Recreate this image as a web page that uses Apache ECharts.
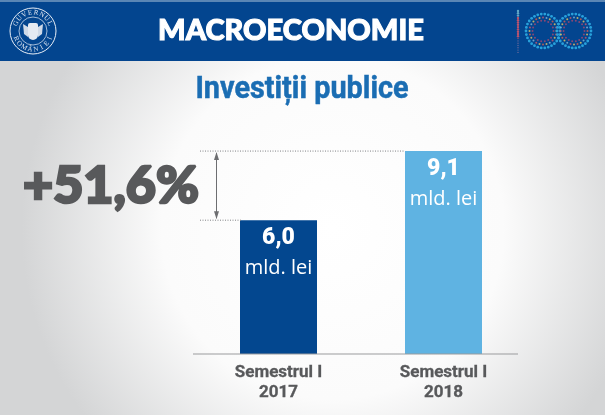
<!DOCTYPE html>
<html><head><meta charset="utf-8">
<style>html,body{margin:0;padding:0;background:#fff}#c{width:605px;height:415px}</style>
<script src="https://cdn.jsdelivr.net/npm/echarts@6/dist/echarts.min.js"></script>
</head><body><div id="c"></div>
<script>
const categories = ['Semestrul I\n2017', 'Semestrul I\n2018'];
const values = [6.0, 9.1];
const valueLabels = ['6,0', '9,1'];
const unitLabel = 'mld. lei';
const headerTitle = 'MACROECONOMIE';
const chartTitle = 'Investiții publice';
const changeLabel = '+51,6%';
const barColors = ['#03478f', '#5fb3e2'];
const ringTop = 'GUVERNUL';
const ringBottom = 'ROMÂNIEI';

const chart = echarts.init(document.getElementById('c'), null, {renderer:'canvas'});
chart.setOption({
  animation:false,
  backgroundColor:{type:'radial',x:0.55,y:0.55,r:0.75,colorStops:[{offset:0,color:'#ffffff'},{offset:0.55,color:'#fbfbfb'},{offset:1,color:'#d4d5d6'}]},
  grid:{left:196,width:330,top:131,height:223},
  xAxis:{type:'category',data:categories,
    axisLine:{show:false},axisTick:{show:false},
    axisLabel:{margin:9,color:'#58595b',fontFamily:'Roboto',fontWeight:700,fontSize:17,lineHeight:20,textBorderColor:'#58595b',textBorderWidth:0.3}},
  yAxis:{type:'value',min:0,max:10,show:false,splitLine:{show:false}},
  series:[{type:'bar',barWidth:77,
    data:values.map((v,i)=>({value:v,itemStyle:{color:barColors[i]},
      label:{formatter:'{a|'+valueLabels[i]+'}\n{b|'+unitLabel+'}'}})),
    label:{show:true,position:'insideTop',distance:5,
      rich:{a:{color:'#fff',fontFamily:'Roboto',fontWeight:900,fontSize:23,lineHeight:27,align:'center'},
            b:{color:'#fff',fontFamily:'Open Sans',fontSize:20,lineHeight:33,align:'center'}}}}]
});

const yBase = chart.convertToPixel({yAxisIndex:0},0);
const yA = chart.convertToPixel({yAxisIndex:0},values[0]);
const yB = chart.convertToPixel({yAxisIndex:0},values[1]);
const g = [];
g.push({type:'rect',z:1,shape:{x:0,y:2,width:605,height:59},style:{fill:'#03458f'}});
g.push({type:'rect',z:1,shape:{x:0,y:0,width:605,height:2},style:{fill:'#5a86b5'}});
g.push({type:'text',z:3,x:291,y:31,style:{text:headerTitle,fill:'#fff',stroke:'#fff',lineWidth:1.1,font:'900 29px Lato',align:'center',verticalAlign:'middle',shadowColor:'rgba(0,0,0,0.8)',shadowBlur:3,shadowOffsetX:2,shadowOffsetY:2}});
// emblem
const ecx=33, ecy=31;
g.push({type:'circle',z:3,shape:{cx:ecx,cy:ecy,r:23},style:{fill:'none',stroke:'#e8eef6',lineWidth:1}});
g.push({type:'circle',z:3,shape:{cx:ecx,cy:ecy,r:14},style:{fill:'none',stroke:'#e8eef6',lineWidth:0.7}});
g.push({type:'rect',z:3,shape:{x:ecx-5,y:ecy-8,width:10,height:17,r:[2,2,5,5]},style:{fill:'#e3e9f2'}});
g.push({type:'polygon',z:3,shape:{points:[[ecx-5,ecy-4],[ecx-10,ecy-7],[ecx-9,ecy+3],[ecx-5,ecy+6]]},style:{fill:'#cfd9e7'}});
g.push({type:'polygon',z:3,shape:{points:[[ecx+5,ecy-4],[ecx+10,ecy-7],[ecx+9,ecy+3],[ecx+5,ecy+6]]},style:{fill:'#cfd9e7'}});
[...ringTop].forEach((ch,i)=>{const a=(-66+i*132/7)*Math.PI/180;
  g.push({type:'text',z:3,x:ecx+18.5*Math.sin(a),y:ecy-18.5*Math.cos(a),rotation:-a,style:{text:ch,fill:'#dfe6f0',font:'7px "Liberation Serif"',align:'center',verticalAlign:'middle'}});});
[...ringBottom].forEach((ch,i)=>{const a=(-66+i*132/7)*Math.PI/180;
  g.push({type:'text',z:3,x:ecx+18.5*Math.sin(a),y:ecy+18.5*Math.cos(a),rotation:a,style:{text:ch,fill:'#dfe6f0',font:'7px "Liberation Serif"',align:'center',verticalAlign:'middle'}});});
// 100 logo
const dotCols=['#e8c860','#d8604f','#e8c860','#c9566c','#7fb8d8'];
for(let j=0;j<19;j++){g.push({type:'circle',z:3,shape:{cx:518,cy:11+j*2.3,r:j<12?1.2:0.7},style:{fill:j<3?'#5fa8c8':j<13?'#b9536f':'#6f6a9a'}});}
[[543,31],[574,31]].forEach((c,ci)=>{
  [[17,30],[13.5,24],[10.5,18]].forEach((r,ri)=>{
    for(let i=0;i<r[1];i++){const a=i/r[1]*Math.PI*2;
      const col = ri===0 ? '#2aa7df' : ri===2 ? '#a8486f' : dotCols[(i+ci)%5];
      g.push({type:'circle',z:3,shape:{cx:c[0]+r[0]*Math.cos(a),cy:c[1]+r[0]*Math.sin(a),r:ri===0?1.4:1},style:{fill:col,opacity:ri===0?0.95:0.8}});}
  });
});
// title
g.push({type:'text',z:3,x:302,y:90,scaleX:0.9,style:{text:chartTitle,fill:'#1a6db3',stroke:'#1a6db3',lineWidth:0.5,font:'700 32px Roboto',align:'center',verticalAlign:'middle'}});
// axis line
g.push({type:'line',z:3,shape:{x1:193,y1:yBase,x2:518,y2:yBase},style:{stroke:'#9a9b9d',lineWidth:1}});
// guides
const dot={stroke:'#808285',lineWidth:1,lineDash:[1,1.5]};
g.push({type:'line',z:3,shape:{x1:200,y1:yB,x2:405,y2:yB},style:dot});
g.push({type:'line',z:3,shape:{x1:200,y1:yA,x2:241,y2:yA},style:dot});
g.push({type:'line',z:3,shape:{x1:216.5,y1:yB+2,x2:216.5,y2:yA-2},style:{stroke:'#6d6e71',lineWidth:1}});
g.push({type:'polygon',z:3,shape:{points:[[216.5,yB+1],[214,yB+9],[219,yB+9]]},style:{fill:'#6d6e71'}});
g.push({type:'polygon',z:3,shape:{points:[[216.5,yA-1],[214,yA-9],[219,yA-9]]},style:{fill:'#6d6e71'}});
// change label
g.push({type:'text',z:3,x:111,y:186,style:{text:changeLabel,fill:'#58595b',stroke:'#58595b',lineWidth:2.6,font:'900 52px Lato',align:'center',verticalAlign:'middle'}});
chart.setOption({graphic:g});
</script></body></html>
